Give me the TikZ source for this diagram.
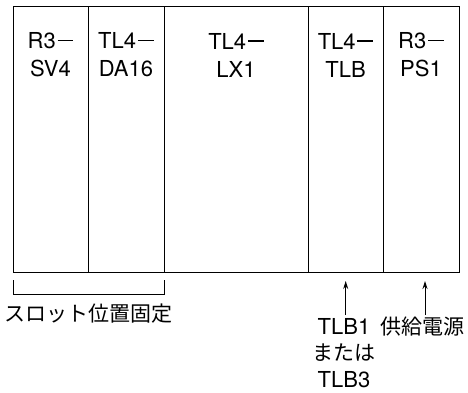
\documentclass[tikz,border=0pt]{standalone}
\usepackage{fontspec}
\setmainfont{TeX Gyre Heros}
\newfontfamily\jpfont{Noto Sans CJK JP}
\newcommand{\longdash}{\kern0.08em\rule[0.34em]{0.72em}{0.06em}}
\usetikzlibrary{arrows.meta}
\tikzset{
  col/.style={draw, line width=1.2pt, rectangle, inner sep=0pt, anchor=north west, minimum height=266pt},
  lbl/.style={font=\fontsize{22}{28}\selectfont, align=center, inner sep=0pt},
  jlbl/.style={font=\fontsize{21}{26}\selectfont\jpfont, inner sep=0pt},
  pointer/.style={line width=1pt, -{Stealth[length=8pt,width=5pt]}},
  brk/.style={line width=1pt}
}
\begin{document}
\begin{tikzpicture}[x=1pt,y=-1pt]
\useasboundingbox (0,0) rectangle (468,392);
\node[col, minimum width=75pt]  (c1) at (13,6) {};
\node[col, minimum width=76pt]  (c2) at (88,6) {};
\node[col, minimum width=144pt] (c3) at (164,6) {};
\node[col, minimum width=75pt]  (c4) at (308,6) {};
\node[col, minimum width=76pt]  (c5) at (383,6) {};
\node[lbl] (t1) at (50.5,55) {R3\longdash\\SV4};
\node[lbl] (t2) at (126,55) {TL4\longdash\\DA16};
\node[lbl] (t3) at (236,55) {TL4\longdash\\LX1};
\node[lbl] (t4) at (345.5,55) {TL4\longdash\\TLB};
\node[lbl] (t5) at (421,55) {R3\longdash\\PS1};
% bracket
\coordinate (b1) at (13,280);
\coordinate (b2) at (164,280);
\draw[brk] (b1) -- ++(0,14) -| (b2);
\node[jlbl] (fix) at (88.5,314) {スロット位置固定};
% pointers
\node[lbl, font=\fontsize{22}{26.5}\selectfont, anchor=north] (tlb) at (344,318) {TLB1\\{\fontsize{21}{26.5}\selectfont\jpfont または}\\TLB3};
\node[jlbl, anchor=north] (ps) at (422,317) {供給電源};
\coordinate (a1) at (345.7,281);
\coordinate (a2) at (425,281);
\draw[pointer] (tlb.north -| a1) ++(0,-3) -- (a1);
\draw[pointer] (ps.north -| a2) ++(0,-2) -- (a2);
\end{tikzpicture}
\end{document}
